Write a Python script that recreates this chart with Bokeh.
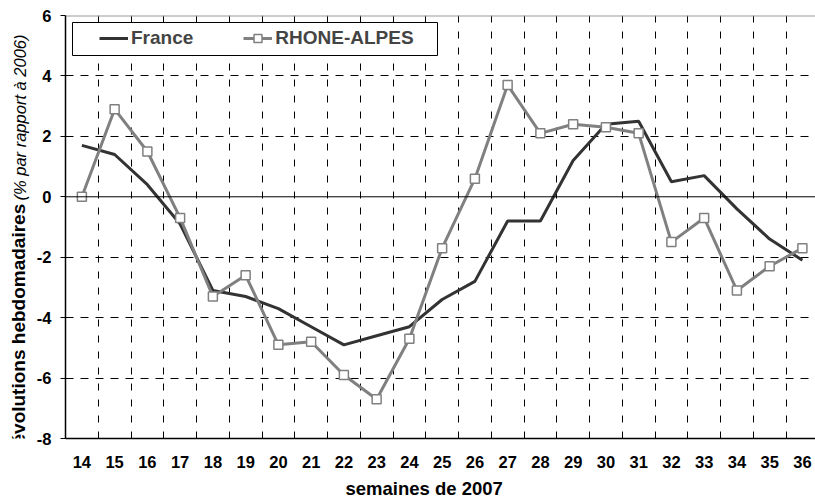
import math
from bokeh.plotting import figure
from bokeh.layouts import row
from bokeh.models import (Range1d, FixedTicker, Span, Label, Legend, LegendItem,
                          BoxAnnotation, ColumnDataSource, Title)
from bokeh.embed import file_html
from bokeh.resources import INLINE

# ---- data ----
weeks = list(range(14, 37))
france = [1.7, 1.4, 0.4, -0.9, -3.1, -3.3, -3.7, -4.3, -4.9, -4.6, -4.3, -3.4,
          -2.8, -0.8, -0.8, 1.2, 2.4, 2.5, 0.5, 0.7, -0.4, -1.4, -2.1]
rhone_alpes = [0.0, 2.9, 1.5, -0.7, -3.3, -2.6, -4.9, -4.8, -5.9, -6.7, -4.7, -1.7,
               0.6, 3.7, 2.1, 2.4, 2.3, 2.1, -1.5, -0.7, -3.1, -2.3, -1.7]
y_ticks = [-8, -6, -4, -2, 0, 2, 4, 6]
y_tick_labels = ["-8", "-6", "-4", "-2", "0", "2", "4", "6"]
series_names = ["France", "RHONE-ALPES"]
x_title = "semaines de 2007"
y_title_main = "évolutions hebdomadaires"
y_title_note = "(% par rapport à 2006)"

FONT = "Liberation Sans"

src = ColumnDataSource(dict(week=weeks, france=france, ra=rhone_alpes))

# ---- narrow figure carrying the vertical y-axis title ----
side = figure(width=30, height=503, output_backend="svg", toolbar_location=None,
              x_axis_type=None, y_axis_type=None, min_border=0,
              x_range=Range1d(0, 1), y_range=Range1d(0, 1),
              outline_line_color=None, background_fill_color="white",
              border_fill_color="white")
side.add_layout(Label(x=18, y=444, x_units="canvas", y_units="canvas", text=y_title_main,
                      angle=math.pi / 2, text_align="left", text_baseline="middle",
                      text_font=FONT, text_font_style="bold", text_font_size="19px",
                      text_color="black"))
side.add_layout(Label(x=19, y=200, x_units="canvas", y_units="canvas", text=y_title_note,
                      angle=math.pi / 2, text_align="left", text_baseline="middle",
                      text_font=FONT, text_font_style="italic", text_font_size="16.5px",
                      text_color="black"))

# ---- main chart ----
p = figure(width=785, height=503, output_backend="svg", toolbar_location=None,
           x_range=Range1d(13.5, 36.4), y_range=Range1d(-8, 6),
           min_border_left=35, min_border_right=0, min_border_top=15,
           min_border_bottom=62, background_fill_color="white",
           border_fill_color="white")
p.outline_line_color = None

# axes
p.xaxis.ticker = FixedTicker(ticks=weeks)
p.xaxis.major_tick_out = 0
p.xaxis.major_tick_in = 0
p.xaxis.minor_tick_out = 0
p.xaxis.minor_tick_in = 0
p.xaxis.major_label_standoff = 17
p.yaxis.ticker = FixedTicker(ticks=y_ticks)
p.yaxis.major_label_overrides = {t: l for t, l in zip(y_ticks, y_tick_labels)}
p.yaxis.major_tick_out = 5
p.yaxis.major_tick_in = 0
p.yaxis.minor_tick_out = 0
p.yaxis.minor_tick_in = 0
p.yaxis.major_label_standoff = 9
for ax in (p.xaxis, p.yaxis):
    ax.axis_line_color = "black"
    ax.axis_line_width = 1.5
    ax.major_tick_line_color = "black"
    ax.major_label_text_font = FONT
    ax.major_label_text_font_style = "bold"
    ax.major_label_text_font_size = "16.5px"
    ax.major_label_text_color = "black"

# grids
p.xgrid.ticker = FixedTicker(ticks=[w + 0.5 for w in weeks[:-1]])
p.xgrid.grid_line_color = "black"
p.xgrid.grid_line_dash = "7 9"
p.xgrid.grid_line_width = 1
p.ygrid.ticker = FixedTicker(ticks=[t for t in y_ticks if t not in (0, -8)])
p.ygrid.grid_line_color = "black"
p.ygrid.grid_line_dash = "8 7"
p.ygrid.grid_line_width = 1
p.add_layout(Span(location=max(y_ticks), dimension="width", line_color="#9a9a9a",
                  line_width=2, level="underlay"))
p.add_layout(Span(location=0, dimension="width", line_color="black", line_width=1))

# series
r_fr = p.line("week", "france", source=src, line_color="#333333", line_width=3)
r_ra = p.line("week", "ra", source=src, line_color="#808080", line_width=3)
r_ra_pts = p.scatter("week", "ra", source=src, marker="square", size=9,
                     fill_color="white", line_color="#808080", line_width=1.5)

# legend box + legend
box = BoxAnnotation(left=7, right=372, top=416, bottom=383,
                    left_units="screen", right_units="screen",
                    top_units="screen", bottom_units="screen",
                    fill_color="white", fill_alpha=1.0,
                    line_color="black", line_width=1, line_alpha=1.0)
p.add_layout(box)

legend = Legend(items=[LegendItem(label=series_names[0], renderers=[r_fr]),
                       LegendItem(label=series_names[1], renderers=[r_ra, r_ra_pts])],
                orientation="horizontal", location=(34, 389), padding=0, margin=0,
                spacing=50, glyph_width=29, glyph_height=20, label_height=20,
                label_standoff=3, label_text_font=FONT,
                label_text_font_style="bold", label_text_font_size="19px",
                background_fill_alpha=0, border_line_alpha=0)
p.add_layout(legend)

# x title
p.add_layout(Title(text=x_title, align="left", offset=280, standoff=10,
                   text_font=FONT, text_font_style="bold", text_font_size="18.5px",
                   text_color="black"), "below")

layout = row(side, p, spacing=0)
open("out.html", "w").write(file_html(layout, INLINE))
